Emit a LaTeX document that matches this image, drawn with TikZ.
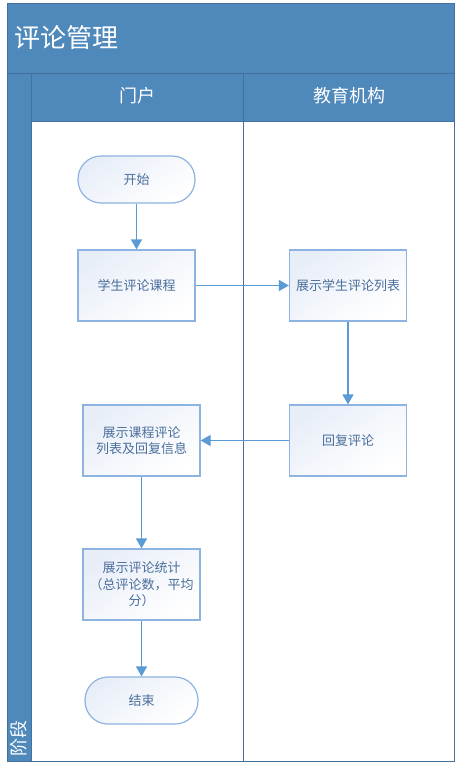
\documentclass[tikz,border=0pt]{standalone}
\usepackage{fontspec}
\setmainfont{Noto Sans CJK SC}
\usetikzlibrary{arrows.meta}
\definecolor{band}{HTML}{4F88BB}
\definecolor{bandline}{HTML}{41719C}
\definecolor{nodeline}{HTML}{8DB3E2}
\definecolor{nodefill}{HTML}{E8EEF8}
\definecolor{arrowc}{HTML}{5B9BD5}
\definecolor{nodetext}{HTML}{4A6E9C}
\tikzset{
  box/.style={draw=nodeline, line width=1.2pt, top color=nodefill, bottom color=white, shading angle=35,
    minimum width=117pt, minimum height=71pt, inner sep=2pt, align=center, font=\fontsize{13}{16.5}\selectfont, text=nodetext},
  term/.style={box, minimum height=47pt, rounded corners=23pt},
  flow/.style={draw=arrowc, line width=1.4pt, -{Triangle[length=10pt,width=11pt]}},
  hdr/.style={text=white, font=\fontsize{18}{20}\selectfont, inner sep=0pt},
}
\begin{document}
\begin{tikzpicture}[x=1pt,y=-1pt]
\useasboundingbox (0,0) rectangle (461,771);
% frame
\fill[band] (7,3) rectangle (454,761);
\fill[white] (31,121) rectangle (454,761);
\draw[bandline, line width=1pt] (7,3) rectangle (454,761);
\draw[bandline, line width=0.8pt] (7,73) -- (454,73);
\draw[bandline, line width=0.8pt] (31,121) -- (454,121);
\draw[bandline, line width=0.8pt] (31,73) -- (31,761);
\draw[bandline, line width=0.8pt] (243,73) -- (243,761);
% headers
\node[hdr, anchor=west, font=\fontsize{26}{28}\selectfont] (title) at (14,38) {评论管理};
\node[hdr] (lane1) at (137,96) {门户};
\node[hdr] (lane2) at (349,96) {教育机构};
\node[hdr, rotate=90] (phase) at (19,738) {阶段};
% nodes
\node[term] (start) at (136.5,179.5) {开始};
\node[box] (rate) at (136.5,285.5) {学生评论课程};
\node[box] (list) at (348,285.5) {展示学生评论列表};
\node[box] (reply) at (348,440.5) {回复评论};
\node[box] (show) at (141.5,440.5) {展示课程评论\\列表及回复信息};
\node[box] (stat) at (141.5,584.5) {展示评论统计\\（总评论数，平均\\分）};
\node[term, minimum width=113pt] (end) at (141.5,700.5) {结束};
% connectors
\draw[flow] (start) -- (rate);
\draw[flow] (rate) -- (list);
\draw[flow] (list) -- (reply);
\draw[flow] (reply) -- (show);
\draw[flow] (show) -- (stat);
\draw[flow] (stat) -- (end);
\end{tikzpicture}
\end{document}
